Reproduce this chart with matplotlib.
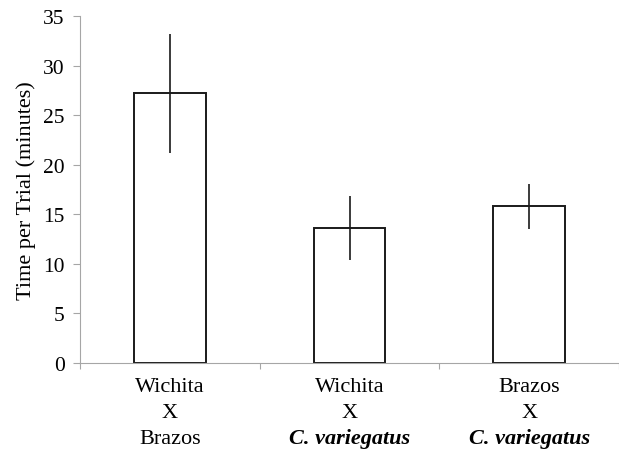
import matplotlib.pyplot as plt
import numpy as np

"""
Data
"""
line1 = ['Wichita', 'Wichita', 'Brazos']
line3 = ['Brazos', 'C. variegatus', 'C. variegatus']
italic3 = [False, True, True]
means = [27.2, 13.6, 15.8]
errors = [6.0, 3.25, 2.3]
yticks = [0, 5, 10, 15, 20, 25, 30, 35]

"""
Script
"""
plt.rcParams['font.family'] = 'Liberation Serif'
grey = '#a6a6a6'
fs = 16

fig = plt.figure(figsize=(6.19, 4.52), dpi=100)
ax = fig.add_axes([80/619, 88/452, 539/619, 347/452])

x = np.arange(len(means))
ax.bar(x, means, width=0.4, color='white', edgecolor='#1a1a1a', linewidth=1.4, zorder=2)
ax.errorbar(x, means, yerr=errors, fmt='none', ecolor='#1a1a1a', elinewidth=1.2, capsize=0, zorder=3)

ax.set_xlim(-0.5, len(means) - 0.5)
ax.set_ylim(0, 35)
ax.set_yticks(yticks)
ax.set_yticklabels([str(t) for t in yticks], fontsize=15.5)
ax.set_ylabel('Time per Trial (minutes)', fontsize=fs)
ax.yaxis.set_label_coords(-44/539, 0.5)

# x ticks sit between the categories, labels are placed by hand
ax.set_xticks(np.arange(len(means) + 1) - 0.5)
ax.set_xticklabels([])
ax.tick_params(axis='x', direction='out', length=4, color=grey)
ax.tick_params(axis='y', direction='out', length=5, color=grey, pad=6)

for side in ['top', 'right']:
    ax.spines[side].set_visible(False)
ax.spines['left'].set_color(grey)
ax.spines['bottom'].set_color(grey)

for i in range(len(means)):
    ax.annotate(line1[i], xy=(i, 0), xycoords=('data', 'axes fraction'),
                xytext=(0, -20.2), textcoords='offset points', ha='center', va='baseline', fontsize=fs)
    ax.annotate('X', xy=(i, 0), xycoords=('data', 'axes fraction'),
                xytext=(0, -38.9), textcoords='offset points', ha='center', va='baseline', fontsize=fs)
    if italic3[i]:
        ax.annotate(line3[i], xy=(i, 0), xycoords=('data', 'axes fraction'),
                    xytext=(0, -57.6), textcoords='offset points', ha='center', va='baseline',
                    fontsize=fs, style='italic', weight='bold')
    else:
        ax.annotate(line3[i], xy=(i, 0), xycoords=('data', 'axes fraction'),
                    xytext=(0, -57.6), textcoords='offset points', ha='center', va='baseline', fontsize=fs)

fig.savefig('out.png', dpi=100)
